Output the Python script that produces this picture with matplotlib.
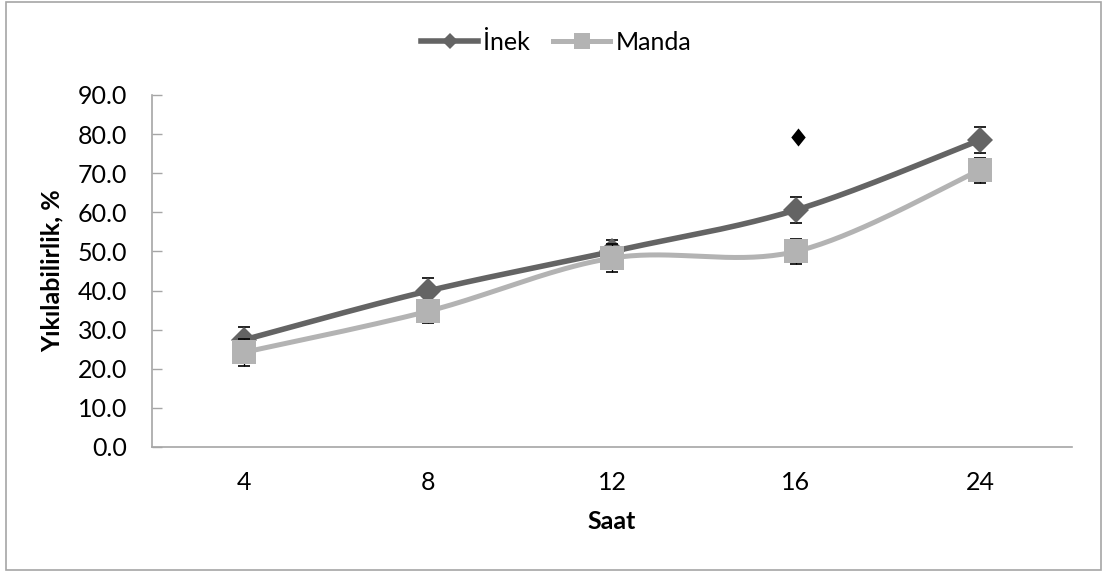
import numpy as np
import matplotlib
matplotlib.use("Agg")
import matplotlib.pyplot as plt
from matplotlib.patches import Rectangle

plt.rcParams['font.family'] = ['Lato', 'DejaVu Sans']

# Data
hours = ["4", "8", "12", "16", "24"]
inek = [27.4, 39.9, 50.0, 60.6, 78.5]
inek_err = [3.3, 3.3, 2.9, 3.3, 3.3]
manda = [24.2, 34.7, 48.3, 50.0, 70.8]
manda_err = [3.4, 3.0, 3.6, 3.3, 3.2]
# significance mark above the 16 h group
mark_hour = "16"
mark_value = 79.3

yticks = [0, 10, 20, 30, 40, 50, 60, 70, 80, 90]

INEK_COLOR = "#646464"
MANDA_COLOR = "#b3b3b3"
FS = 18


def smooth(xs, ys, n=40):
    """Catmull-Rom style cubic Bezier smoothing (spreadsheet 'smoothed line')."""
    xs = np.asarray(xs, float)
    ys = np.asarray(ys, float)
    px = np.concatenate([[xs[0]], xs, [xs[-1]]])
    py = np.concatenate([[ys[0]], ys, [ys[-1]]])
    outx, outy = [], []
    t = np.linspace(0, 1, n)
    for i in range(1, len(px) - 2):
        p0 = np.array([px[i], py[i]])
        p3 = np.array([px[i + 1], py[i + 1]])
        c1 = p0 + (np.array([px[i + 1], py[i + 1]]) - np.array([px[i - 1], py[i - 1]])) / 6
        c2 = p3 - (np.array([px[i + 2], py[i + 2]]) - np.array([px[i], py[i]])) / 6
        b = ((1 - t) ** 3)[:, None] * p0 + (3 * (1 - t) ** 2 * t)[:, None] * c1 \
            + (3 * (1 - t) * t ** 2)[:, None] * c2 + (t ** 3)[:, None] * p3
        outx.extend(b[:, 0])
        outy.extend(b[:, 1])
    return np.array(outx), np.array(outy)


fig = plt.figure(figsize=(11.03, 5.72), dpi=100)
ax = fig.add_axes([152 / 1103, 125 / 572, 920 / 1103, 352 / 572])

x = np.arange(len(hours))
err_kw = dict(fmt='none', ecolor='black', elinewidth=0.9, capsize=4.3, capthick=1.2)

# Inek series
sx, sy = smooth(x, inek)
ax.plot(sx, sy, color=INEK_COLOR, lw=4.0, solid_capstyle='round', zorder=2)
ax.errorbar(x, inek, yerr=inek_err, zorder=2.5, **err_kw)
ax.plot(x, inek, ls='none', marker='D', ms=13, mew=0, color=INEK_COLOR, zorder=3)

# Manda series
sx, sy = smooth(x, manda)
ax.plot(sx, sy, color=MANDA_COLOR, lw=3.6, solid_capstyle='round', zorder=4)
ax.errorbar(x, manda, yerr=manda_err, zorder=4.5, **err_kw)
ax.plot(x, manda, ls='none', marker='s', ms=17.5, mew=0, color=MANDA_COLOR, zorder=5)

# significance mark
diamond = [(-0.4, 0), (0, 0.5), (0.4, 0), (0, -0.5), (-0.4, 0)]
ax.plot([hours.index(mark_hour) + 0.01], [mark_value], ls='none', marker=diamond,
        ms=13, mew=0, color='black', zorder=7)

ax.set_xlim(-0.5, len(hours) - 0.5)
ax.set_ylim(0, 90)
ax.set_xticks(x)
ax.set_xticklabels(hours)
ax.set_yticks(yticks)
ax.set_yticklabels([f"{v:.1f}" for v in yticks])

for s in ['top', 'right']:
    ax.spines[s].set_visible(False)
for s in ['left', 'bottom']:
    ax.spines[s].set_color('#a6a6a6')
    ax.spines[s].set_linewidth(1.2)

ax.tick_params(axis='y', direction='in', length=7, width=1.0, color='#a6a6a6',
               labelsize=FS, pad=18)
ax.tick_params(axis='x', length=0, labelsize=FS, pad=17)

ax.set_xlabel("Saat", fontsize=FS, fontweight='bold', labelpad=12)
ax.set_ylabel("Yıkılabilirlik, %", fontsize=FS, fontweight='bold', labelpad=10)

handles = [
    plt.Line2D([], [], color=INEK_COLOR, lw=4.0, marker='D', ms=8.5, mew=0),
    plt.Line2D([], [], color=MANDA_COLOR, lw=3.6, marker='s', ms=12, mew=0),
]
fig.legend(handles, ["İnek", "Manda"], loc='center', bbox_to_anchor=(556 / 1103, 1 - 42 / 572),
           ncol=2, frameon=False, fontsize=FS, handlelength=2.3, handletextpad=0.2,
           columnspacing=0.9)

# chart border
fig.patches.append(Rectangle((6 / 1103, 2 / 572), 1095 / 1103, 568 / 572,
                             transform=fig.transFigure, fill=False,
                             edgecolor='#a6a6a6', lw=1.2))

fig.savefig("out.png", dpi=100)
